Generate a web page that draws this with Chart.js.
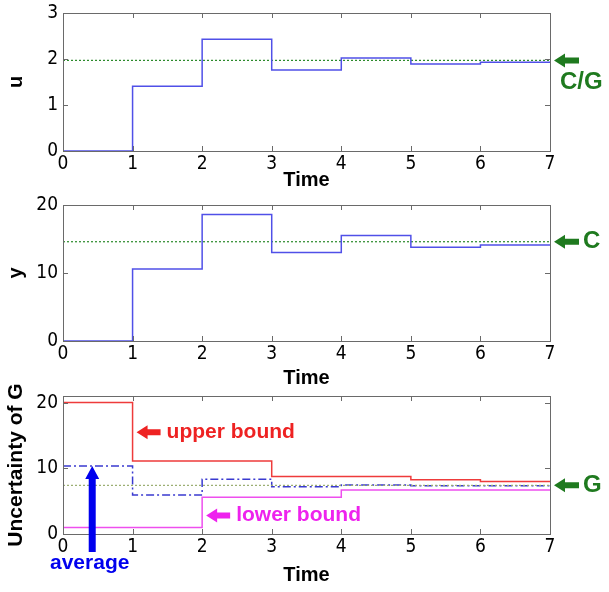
<!DOCTYPE html>
<html>
<head>
<meta charset="utf-8">
<script src="https://cdn.jsdelivr.net/npm/chart.js@4.4.0/dist/chart.umd.min.js"></script>
<style>
  body { margin: 0; background: #fff; }
  #wrap { position: relative; width: 609px; height: 592px; }
  #wrap canvas { position: absolute; left: 0; }
</style>
</head>
<body>
<div id="wrap">
  <canvas id="uChart" width="609" height="196" style="top:0px"></canvas>
  <canvas id="yChart" width="609" height="196" style="top:196px"></canvas>
  <canvas id="gChart" width="609" height="222" style="top:370px"></canvas>
</div>
<script>
// Time axis
const timeTicks = [0, 1, 2, 3, 4, 5, 6, 7];

// Values held on each interval [k, k+1]
const uValues = [0, 1.41, 2.43, 1.76, 2.02, 1.89, 1.93];
const yValues = [0, 10.6, 18.6, 13.0, 15.5, 13.8, 14.1];
const upperBound = [20, 11.1, 11.1, 8.75, 8.75, 8.25, 8.0];
const lowerBound = [1.0, 1.0, 5.6, 5.6, 6.7, 6.7, 6.7];
const averageG = [10.35, 5.95, 8.35, 7.2, 7.45, 7.35, 7.35];

// Reference levels
const cOverG = 1.97;
const cValue = 14.6;
const gValue = 7.4;

// Tick labels
const uTicks = [0, 1, 2, 3];
const yTicks = [0, 10, 20];
const gTicks = [0, 10, 20];

const tickFont = { family: "'Liberation Sans Narrow', 'DejaVu Sans Condensed', 'Liberation Sans', sans-serif", size: 19 };
const titleFont = { family: "'Liberation Sans', Arial, sans-serif", size: 20, weight: 'bold' };
const AXIS_COLOR = '#6a6a6a';

// step series: value v[k] holds from k to k+1
function stepData(values) {
    const pts = values.map((v, i) => ({ x: timeTicks[i], y: v }));
    pts.push({ x: timeTicks[values.length], y: values[values.length - 1] });
    return pts;
}

function levelData(v) {
    return [{ x: timeTicks[0], y: v }, { x: timeTicks[timeTicks.length - 1], y: v }];
}

// MATLAB style box with inward ticks
const boxPlugin = {
    id: 'box',
    afterDraw(chart) {
        const ctx = chart.ctx;
        const a = chart.chartArea;
        const xs = chart.scales.x, ys = chart.scales.y;
        ctx.save();
        ctx.strokeStyle = AXIS_COLOR;
        ctx.lineWidth = 1;
        ctx.strokeRect(Math.round(a.left) + 0.5, Math.round(a.top) + 0.5,
            Math.round(a.right - a.left), Math.round(a.bottom - a.top));
        ctx.beginPath();
        xs.ticks.forEach(t => {
            const px = Math.round(xs.getPixelForValue(t.value)) + 0.5;
            ctx.moveTo(px, a.bottom); ctx.lineTo(px, a.bottom - 5);
            ctx.moveTo(px, a.top); ctx.lineTo(px, a.top + 5);
        });
        ys.ticks.forEach(t => {
            const py = Math.round(ys.getPixelForValue(t.value)) + 0.5;
            ctx.moveTo(a.left, py); ctx.lineTo(a.left + 5, py);
            ctx.moveTo(a.right, py); ctx.lineTo(a.right - 5, py);
        });
        ctx.stroke();
        ctx.restore();
    }
};

function arrowLeft(ctx, xTip, y, len, color) {
    ctx.save();
    ctx.fillStyle = color;
    ctx.beginPath();
    ctx.moveTo(xTip, y);
    ctx.lineTo(xTip + 11, y - 7);
    ctx.lineTo(xTip + 11, y - 3);
    ctx.lineTo(xTip + len, y - 3);
    ctx.lineTo(xTip + len, y + 3);
    ctx.lineTo(xTip + 11, y + 3);
    ctx.lineTo(xTip + 11, y + 7);
    ctx.closePath();
    ctx.fill();
    ctx.restore();
}

function arrowUp(ctx, x, yTip, yEnd, color) {
    ctx.save();
    ctx.fillStyle = color;
    ctx.beginPath();
    ctx.moveTo(x, yTip);
    ctx.lineTo(x + 7, yTip + 13);
    ctx.lineTo(x + 3.5, yTip + 13);
    ctx.lineTo(x + 3.5, yEnd);
    ctx.lineTo(x - 3.5, yEnd);
    ctx.lineTo(x - 3.5, yTip + 13);
    ctx.lineTo(x - 7, yTip + 13);
    ctx.closePath();
    ctx.fill();
    ctx.restore();
}

function label(ctx, text, x, y, color, size) {
    ctx.save();
    ctx.fillStyle = color;
    ctx.font = 'bold ' + size + "px 'Liberation Sans', Arial, sans-serif";
    ctx.textAlign = 'left';
    ctx.textBaseline = 'middle';
    ctx.fillText(text, x, y);
    ctx.restore();
}

function makeOptions(yTickVals, yMax, yTitle, xHeight, padTop, timePad, yTitleFont) {
    return {
        responsive: false,
        animation: false,
        layout: { padding: { top: padTop, right: 59, left: 0, bottom: 0 } },
        plugins: { legend: { display: false }, tooltip: { enabled: false } },
        elements: { point: { radius: 0 } },
        scales: {
            x: {
                type: 'linear', min: 0, max: 7,
                afterBuildTicks: s => { s.ticks = timeTicks.map(v => ({ value: v })); },
                afterFit: s => { s.height = xHeight; s.paddingLeft = 0; s.paddingRight = 0; },
                grid: { display: false, drawTicks: false },
                border: { display: false },
                ticks: { font: tickFont, color: '#000', padding: 2, maxRotation: 0 },
                title: { display: true, text: 'Time', font: titleFont, color: '#000', padding: { top: 0, bottom: timePad } }
            },
            y: {
                type: 'linear', min: 0, max: yMax,
                afterBuildTicks: s => { s.ticks = yTickVals.map(v => ({ value: v })); },
                afterFit: s => { s.width = 63; s.paddingTop = 0; s.paddingBottom = 0; },
                grid: { display: false, drawTicks: false },
                border: { display: false },
                ticks: { font: tickFont, color: '#000', padding: 5 },
                title: { display: true, text: yTitle, font: yTitleFont || titleFont, color: '#000', padding: { top: 4, bottom: 0 } }
            }
        }
    };
}

const lineBlue = '#5050e8';
const green = '#1f7a1f';

// u chart
new Chart(document.getElementById('uChart'), {
    type: 'line',
    data: {
        datasets: [
            { data: stepData(uValues), stepped: 'before', borderColor: lineBlue, borderWidth: 1.5, clip: 4 },
            { data: levelData(cOverG), borderColor: '#2a8a2a', borderWidth: 1.2, borderDash: [2, 2] }
        ]
    },
    options: makeOptions(uTicks, 3, 'u', 45, 13, 4),
    plugins: [boxPlugin, {
        id: 'uNotes',
        afterDraw(chart) {
            const ctx = chart.ctx, a = chart.chartArea;
            const py = chart.scales.y.getPixelForValue(cOverG);
            arrowLeft(ctx, a.right + 4, py, 25, green);
            label(ctx, 'C/G', a.right + 10, py + 22, green, 24);
        }
    }]
});

// y chart
new Chart(document.getElementById('yChart'), {
    type: 'line',
    data: {
        datasets: [
            { data: stepData(yValues), stepped: 'before', borderColor: lineBlue, borderWidth: 1.5, clip: 4 },
            { data: levelData(cValue), borderColor: '#2a8a2a', borderWidth: 1.2, borderDash: [2, 2] }
        ]
    },
    options: makeOptions(yTicks, 20, 'y', 51, 9, 2),
    plugins: [boxPlugin, {
        id: 'yNotes',
        afterDraw(chart) {
            const ctx = chart.ctx, a = chart.chartArea;
            const py = chart.scales.y.getPixelForValue(cValue);
            arrowLeft(ctx, a.right + 4, py, 25, green);
            label(ctx, 'C', a.right + 33, py, green, 24);
        }
    }]
});

// uncertainty of G chart
new Chart(document.getElementById('gChart'), {
    type: 'line',
    data: {
        datasets: [
            { data: levelData(gValue), borderColor: '#9aae70', borderWidth: 1.2, borderDash: [2, 2] },
            { data: stepData(upperBound), stepped: 'before', borderColor: '#ee3b3b', borderWidth: 1.5, clip: 4 },
            { data: stepData(lowerBound), stepped: 'before', borderColor: '#ee4fee', borderWidth: 1.5, clip: 4 },
            { data: stepData(averageG), stepped: 'before', borderColor: '#3a3ad0', borderWidth: 1.5, borderDash: [8, 3, 2, 3], clip: 4 }
        ]
    },
    options: makeOptions(gTicks, 21, 'Uncertainty of G', 58, 26, 5,
        { family: "'Liberation Sans', Arial, sans-serif", size: 21, weight: 'bold' }),
    plugins: [boxPlugin, {
        id: 'gNotes',
        afterDraw(chart) {
            const ctx = chart.ctx, a = chart.chartArea;
            const xs = chart.scales.x, ys = chart.scales.y;
            const gy = ys.getPixelForValue(gValue);
            arrowLeft(ctx, a.right + 4, gy, 25, green);
            label(ctx, 'G', a.right + 33, gy, green, 24);

            const uy = ys.getPixelForValue(15.5);
            arrowLeft(ctx, xs.getPixelForValue(1) + 4, uy, 24, '#ee2222');
            label(ctx, 'upper bound', xs.getPixelForValue(1) + 34, uy, '#ee2222', 21);

            const ly = ys.getPixelForValue(2.8);
            arrowLeft(ctx, xs.getPixelForValue(2) + 4, ly, 24, '#ee22ee');
            label(ctx, 'lower bound', xs.getPixelForValue(2) + 34, ly, '#ee22ee', 21);

            const ax = xs.getPixelForValue(0.42);
            arrowUp(ctx, ax, ys.getPixelForValue(averageG[0]), a.bottom + 18, '#0000ee');
            label(ctx, 'average', a.left - 13, a.bottom + 29, '#0000ee', 21);
        }
    }]
});
</script>
</body>
</html>
